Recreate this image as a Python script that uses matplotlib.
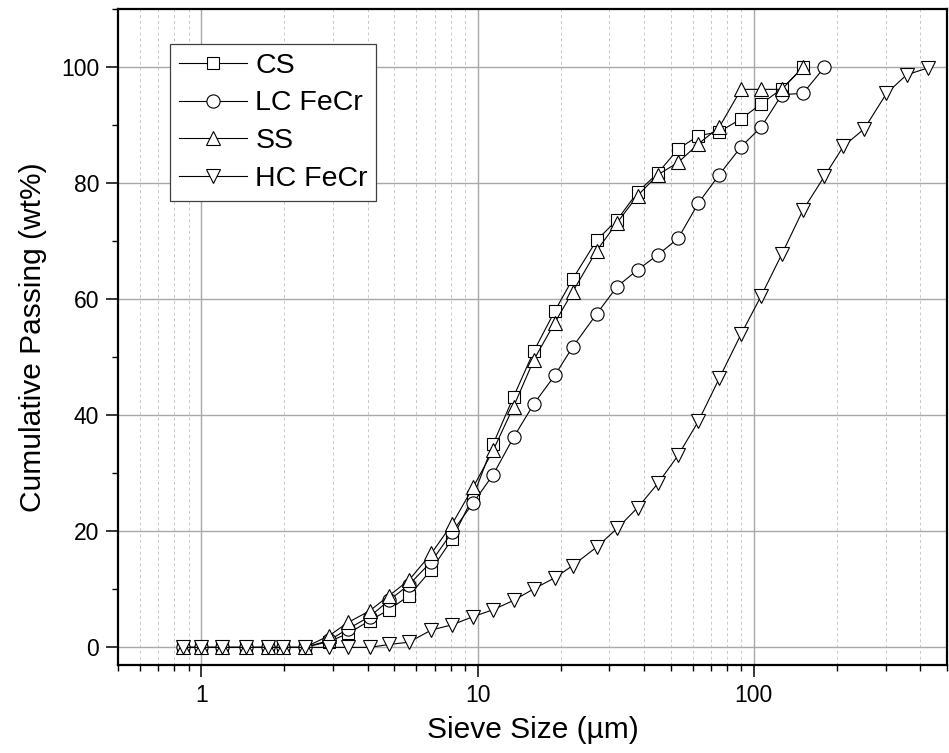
import matplotlib
matplotlib.use("Agg")
import matplotlib.pyplot as plt
from matplotlib.ticker import LogLocator, FixedLocator, MultipleLocator, NullFormatter, FixedFormatter

plt.rcParams['font.family'] = ['Liberation Sans', 'DejaVu Sans']

# Sieve sizes (µm)
sizes = [0.86, 1.0, 1.19, 1.45, 1.74, 1.98, 2.37, 2.90, 3.40, 4.07, 4.78, 5.65, 6.81,
         8.1, 9.64, 11.4, 13.5, 16.0, 19.05, 22.1, 27.0, 32.0, 38.0, 45.0, 53.2, 63.0,
         75.0, 89.9, 106.3, 126.3, 150.6, 180.0, 211.0, 251.0, 302.0, 357.0, 427.0]

cs = [0, 0, 0, 0, 0, 0, 0, 1.0, 2.4, 4.6, 6.5, 8.9, 13.4, 18.7, 26.0, 35.1, 43.2,
      51.1, 58.0, 63.5, 70.2, 73.7, 78.5, 81.8, 85.9, 88.2, 88.9, 91.1, 93.7, 96.3, 100.0]
lc = [0, 0, 0, 0, 0, 0, 0, 1.2, 3.2, 5.3, 8.1, 10.8, 14.8, 19.9, 24.9, 29.8, 36.2,
      42.0, 46.9, 51.8, 57.5, 62.2, 65.1, 67.7, 70.5, 76.6, 81.5, 86.3, 89.7, 95.3, 95.5, 100.0]
ss = [0, 0, 0, 0, 0, 0, 0, 2.0, 4.3, 6.3, 8.9, 11.6, 16.2, 21.3, 27.6, 34.0, 41.5,
      49.6, 56.0, 61.3, 68.4, 73.2, 77.9, 81.5, 83.6, 86.8, 89.7, 96.2, 96.2, 96.2, 100.0]
hc = [0, 0, 0, 0, 0, 0, 0, 0, 0, 0, 0.5, 0.9, 3.0, 3.9, 5.3, 6.5, 8.1, 10.1, 12.0,
      14.1, 17.3, 20.5, 24.1, 28.3, 33.1, 39.0, 46.4, 54.0, 60.6, 67.8, 75.4, 81.2,
      86.4, 89.4, 95.5, 98.7, 99.9]

labels = ["CS", "LC FeCr", "SS", "HC FeCr"]
x_ticks = [1, 10, 100]
x_tick_labels = ["1", "10", "100"]
y_ticks = [0, 20, 40, 60, 80, 100]

fig = plt.figure(figsize=(9.49, 7.53), dpi=100)
ax = fig.add_axes([118/949, 1-664.8/753, (947-118)/949, (664.8-9.3)/753])

series = [(cs, 's', 9), (lc, 'o', 9.5), (ss, '^', 10.5), (hc, 'v', 10.5)]
for (ys, mk, ms), lab in zip(series, labels):
    ax.plot(sizes[:len(ys)], ys, color='black', lw=0.8, marker=mk, ms=ms,
            mfc='white', mec='black', mew=0.8, label=lab, zorder=3)

ax.set_xscale('log')
ax.set_xlim(0.5, 500)
ax.set_ylim(-3, 110)

ax.xaxis.set_major_locator(FixedLocator(x_ticks))
ax.xaxis.set_major_formatter(FixedFormatter(x_tick_labels))
ax.xaxis.set_minor_locator(LogLocator(base=10, subs=range(2, 10), numticks=20))
ax.xaxis.set_minor_formatter(NullFormatter())
ax.yaxis.set_major_locator(FixedLocator(y_ticks))
ax.yaxis.set_minor_locator(MultipleLocator(10))

ax.grid(True, which='major', color='#a8a8a8', lw=1.0, ls='-', zorder=0)
ax.grid(True, which='minor', axis='x', color='#c8c8c8', lw=0.7, ls=(0, (3, 3)), zorder=0)
ax.set_axisbelow(True)

for s in ax.spines.values():
    s.set_linewidth(1.6)
    s.set_color('black')

ax.tick_params(which='major', direction='out', length=8.6, width=1.1, labelsize=16.5,
               top=False, right=False, pad=5)
ax.tick_params(which='minor', direction='out', length=4.5, width=1.0,
               top=False, right=False)

ax.set_xlabel("Sieve Size (µm)", fontsize=21.5, labelpad=7)
ax.set_ylabel("Cumulative Passing (wt%)", fontsize=21.5, labelpad=10)

leg = ax.legend(loc='upper left', bbox_to_anchor=((170-118)/(947-118), (664.8-44)/(664.8-9.3)),
                borderaxespad=0, fontsize=20.5, handlelength=2.4, handletextpad=0.3,
                labelspacing=0.42, borderpad=0.3, fancybox=False, frameon=True,
                framealpha=1, edgecolor='#404040')
leg.get_frame().set_linewidth(0.9)

fig.savefig("out.png", dpi=100)
